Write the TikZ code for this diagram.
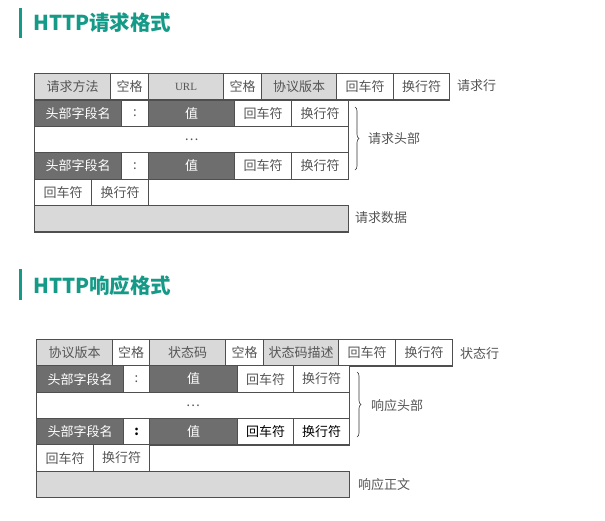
\documentclass[tikz,border=0pt]{standalone}
\usepackage{fontspec}
\newfontfamily\cjk{Noto Sans CJK SC}
\newfontfamily\serifurl{Liberation Serif}
\usetikzlibrary{decorations.pathreplacing}
\definecolor{teal1}{HTML}{159A87}
\definecolor{lightc}{HTML}{D9D9D9}
\definecolor{darkc}{HTML}{6E6E6E}
\definecolor{linec}{HTML}{4F4F4F}
\definecolor{txtc}{HTML}{555555}
\begin{document}
\begin{tikzpicture}[x=1pt,y=-1pt,
  cell/.style={draw=linec, line width=1.1pt, anchor=north west, inner sep=0pt,
    minimum height=26.4pt, font=\cjk\fontsize{13}{15}\selectfont, text=txtc},
  lite/.style={cell, fill=lightc},
  dark/.style={cell, fill=darkc, text=white},
  wht/.style={cell, fill=white},
  lbl/.style={anchor=west, inner sep=0pt, font=\cjk\fontsize{13}{15}\selectfont, text=txtc},
  ttl/.style={anchor=west, inner sep=0pt, font=\cjk\bfseries\fontsize{20.5}{24}\selectfont, text=teal1},
  brc/.style={draw=black!80, line width=0.6pt, decorate, decoration={brace, amplitude=4pt}}]
\useasboundingbox (0,0) rectangle (605,520);
\fill[white] (0,0) rectangle (605,520);

% ---------- Request ----------
\fill[teal1] (18.5,7.5) rectangle (22,37.5);
\node[ttl] (t1) at (33,22.5) {HTTP请求格式};

\node[lite, minimum width=76pt] (q1) at (34,73) {请求方法};
\node[wht,  minimum width=38pt] (q2) at (110,73) {空格};
\node[lite, minimum width=75pt, font=\serifurl\fontsize{11}{13}\selectfont] (q3) at (148,73) {URL};
\node[wht,  minimum width=38pt] (q4) at (223,73) {空格};
\node[lite, minimum width=75pt] (q5) at (261,73) {协议版本};
\node[wht,  minimum width=57pt] (q6) at (336,73) {回车符};
\node[wht,  minimum width=56pt] (q7) at (393,73) {换行符};
\node[lbl] (ql) at (457,86) {请求行};

\node[dark, minimum width=87pt] (h1a) at (34,99.4) {头部字段名};
\node[wht,  minimum width=27pt] (h1b) at (121,99.4) {:};
\node[dark, minimum width=86pt] (h1c) at (148,99.4) {值};
\node[wht,  minimum width=57pt] (h1d) at (234,99.4) {回车符};
\node[wht,  minimum width=57pt] (h1e) at (291,99.4) {换行符};

\node[wht, minimum width=314pt] (hdots) at (34,125.8) {…};

\node[dark, minimum width=87pt] (h2a) at (34,152.2) {头部字段名};
\node[wht,  minimum width=27pt] (h2b) at (121,152.2) {:};
\node[dark, minimum width=86pt] (h2c) at (148,152.2) {值};
\node[wht,  minimum width=57pt] (h2d) at (234,152.2) {回车符};
\node[wht,  minimum width=57pt] (h2e) at (291,152.2) {换行符};

\node[wht, minimum width=57pt] (e1) at (34,178.6) {回车符};
\node[wht, minimum width=57pt] (e2) at (91,178.6) {换行符};

\node[lite, minimum width=314pt] (qd) at (34,205) {};
\node[lbl] (qdl) at (355,218) {请求数据};

\coordinate (b1t) at (355,107);
\coordinate (b1b) at (355,170);
\draw[brc] (b1t) -- (b1b);
\node[lbl] (qhl) at (368,139) {请求头部};

% ---------- Response ----------
\fill[teal1] (18.5,269) rectangle (22,300);
\node[ttl] (t2) at (33,285.5) {HTTP响应格式};

\node[lite, minimum width=76pt] (s1) at (36,339) {协议版本};
\node[wht,  minimum width=37pt] (s2) at (112,339) {空格};
\node[lite, minimum width=76pt] (s3) at (149,339) {状态码};
\node[wht,  minimum width=38pt] (s4) at (225,339) {空格};
\node[lite, minimum width=75pt] (s5) at (263,339) {状态码描述};
\node[wht,  minimum width=57pt] (s6) at (338,339) {回车符};
\node[wht,  minimum width=57pt] (s7) at (395,339) {换行符};
\node[lbl] (sl) at (460,354) {状态行};

\node[dark, minimum width=87pt] (r1a) at (36,365.3) {头部字段名};
\node[wht,  minimum width=26pt] (r1b) at (123,365.3) {:};
\node[dark, minimum width=88pt] (r1c) at (149,365.3) {值};
\node[wht,  minimum width=56pt] (r1d) at (237,365.3) {回车符};
\node[wht,  minimum width=56pt] (r1e) at (293,365.3) {换行符};

\node[wht, minimum width=313pt] (rdots) at (36,391.6) {…};

\node[dark, minimum width=87pt] (r2a) at (36,418) {头部字段名};
\node[wht,  minimum width=26pt, text=black] (r2b) at (123,418) {\textbf{:}};
\node[dark, minimum width=88pt] (r2c) at (149,418) {值};
\node[wht,  minimum width=56pt, text=black] (r2d) at (237,418) {回车符};
\node[wht,  minimum width=56pt, text=black] (r2e) at (293,418) {换行符};

\node[wht, minimum width=57pt] (f1) at (36,444.3) {回车符};
\node[wht, minimum width=56pt] (f2) at (93,444.3) {换行符};

\node[lite, minimum width=313pt] (sd) at (36,470.6) {};
\node[lbl] (sdl) at (358,485) {响应正文};

\coordinate (b2t) at (357,372);
\coordinate (b2b) at (357,437);
\draw[brc] (b2t) -- (b2b);
\node[lbl] (shl) at (371,406) {响应头部};
\end{tikzpicture}
\end{document}
